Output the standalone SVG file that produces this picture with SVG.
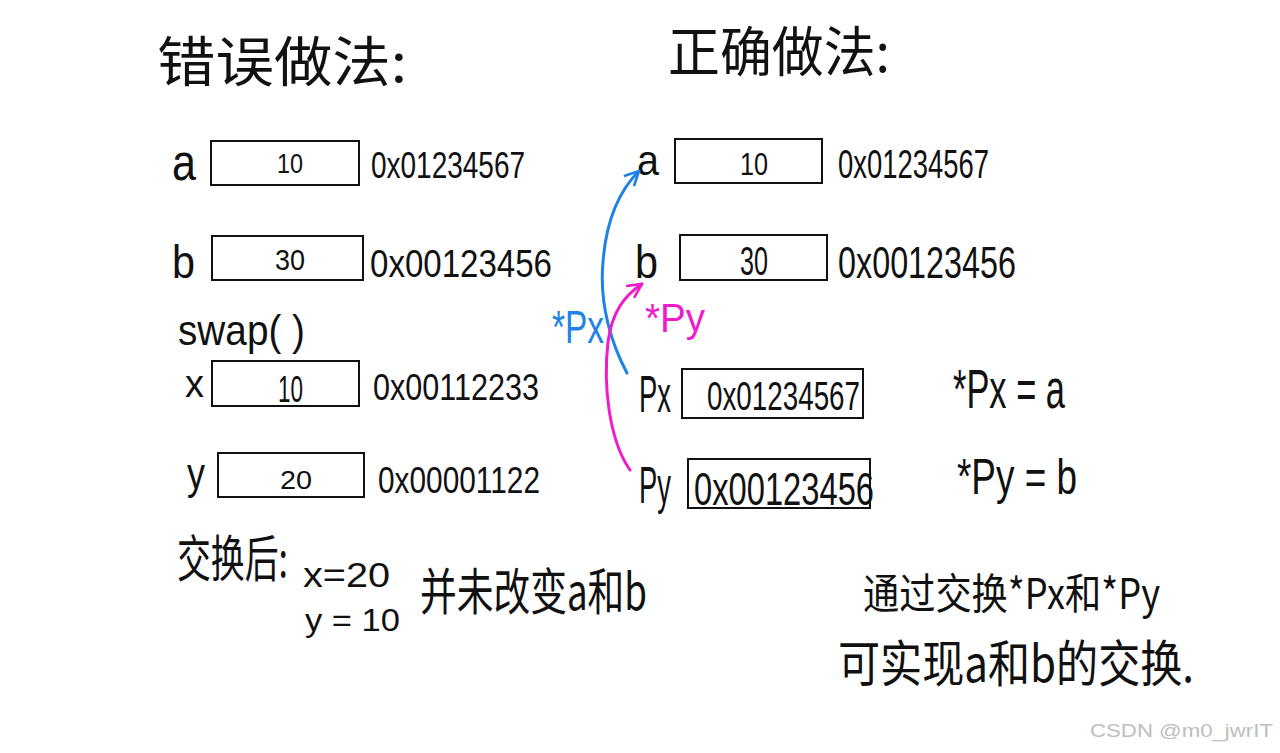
<svg xmlns="http://www.w3.org/2000/svg" width="1280" height="753" viewBox="0 0 1280 753">
<defs>
<style>
.t{font-family:"Liberation Sans","Noto Sans CJK SC",sans-serif;fill:#111;}
.c{font-family:"Noto Sans CJK SC","Liberation Sans",sans-serif;fill:#111;}
.box{fill:none;stroke:#111;stroke-width:2;}
.blue{fill:none;stroke:#1e82e6;stroke-width:3;stroke-linecap:round;}
.pink{fill:none;stroke:#ee1ccb;stroke-width:3;stroke-linecap:round;}
</style>
<marker id="ab" viewBox="0 0 12 12" refX="11" refY="6" markerWidth="16" markerHeight="16" markerUnits="userSpaceOnUse" orient="auto">
<path d="M1,1 L11,6 L1,11" fill="none" stroke="#1e82e6" stroke-width="2" stroke-linecap="round"/>
</marker>
<marker id="ap" viewBox="0 0 12 12" refX="11" refY="6" markerWidth="16" markerHeight="16" markerUnits="userSpaceOnUse" orient="auto">
<path d="M1,1 L11,6 L1,11" fill="none" stroke="#ee1ccb" stroke-width="2" stroke-linecap="round"/>
</marker>
</defs>
<rect width="1280" height="753" fill="#fff"/>

<g id="title-wrong"><text class="c" x="157" y="82" font-size="54" textLength="250" lengthAdjust="spacingAndGlyphs">错误做法:</text></g>
<g id="title-right"><text class="c" x="668" y="72" font-size="54" textLength="222" lengthAdjust="spacingAndGlyphs">正确做法:</text></g>

<g id="left-a">
<text class="t" x="172" y="180" font-size="52" textLength="24" lengthAdjust="spacingAndGlyphs">a</text>
<rect class="box" x="211" y="141" width="148" height="44"/>
<text class="t" x="277" y="173" font-size="28" textLength="26" lengthAdjust="spacingAndGlyphs">10</text>
<text class="t" x="371" y="178" font-size="36" textLength="154" lengthAdjust="spacingAndGlyphs">0x01234567</text>
</g>
<g id="left-b">
<text class="t" x="172" y="278" font-size="46" textLength="23" lengthAdjust="spacingAndGlyphs">b</text>
<rect class="box" x="212" y="236" width="151" height="44"/>
<text class="t" x="275" y="270" font-size="30" textLength="30" lengthAdjust="spacingAndGlyphs">30</text>
<text class="t" x="370" y="277" font-size="38" textLength="182" lengthAdjust="spacingAndGlyphs">0x00123456</text>
</g>
<g id="swap"><text class="t" x="178" y="345" font-size="42" textLength="127" lengthAdjust="spacingAndGlyphs">swap( )</text></g>
<g id="left-x">
<text class="t" x="185" y="397" font-size="38" textLength="19" lengthAdjust="spacingAndGlyphs">x</text>
<rect class="box" x="212" y="361" width="147" height="45"/>
<text class="t" x="278" y="402" font-size="36" textLength="25" lengthAdjust="spacingAndGlyphs">10</text>
<text class="t" x="373" y="400" font-size="36" textLength="166" lengthAdjust="spacingAndGlyphs">0x00112233</text>
</g>
<g id="left-y">
<text class="t" x="187" y="489" font-size="44" textLength="18" lengthAdjust="spacingAndGlyphs">y</text>
<rect class="box" x="218" y="453" width="146" height="44"/>
<text class="t" x="280" y="489" font-size="26" textLength="32" lengthAdjust="spacingAndGlyphs">20</text>
<text class="t" x="378" y="493" font-size="36" textLength="162" lengthAdjust="spacingAndGlyphs">0x00001122</text>
</g>
<g id="after-swap">
<text class="c" transform="translate(177,577) scale(1,1.35)" font-size="37" textLength="111" lengthAdjust="spacingAndGlyphs">交换后:</text>
<text class="t" x="303" y="587" font-size="35" textLength="87" lengthAdjust="spacingAndGlyphs">x=20</text>
<text class="t" x="305" y="631" font-size="32" textLength="95" lengthAdjust="spacingAndGlyphs">y = 10</text>
<text class="c" x="420" y="610" font-size="50" textLength="227" lengthAdjust="spacingAndGlyphs">并未改变a和b</text>
</g>

<g id="right-a">
<text class="t" x="637" y="175" font-size="42" textLength="22" lengthAdjust="spacingAndGlyphs">a</text>
<rect class="box" x="675" y="139" width="147" height="44"/>
<text class="t" x="740" y="175" font-size="32" textLength="28" lengthAdjust="spacingAndGlyphs">10</text>
<text class="t" x="838" y="178" font-size="40" textLength="151" lengthAdjust="spacingAndGlyphs">0x01234567</text>
</g>
<g id="right-b">
<text class="t" x="635" y="278" font-size="46" textLength="23" lengthAdjust="spacingAndGlyphs">b</text>
<rect class="box" x="680" y="235" width="147" height="45"/>
<text class="t" x="740" y="275" font-size="40" textLength="28" lengthAdjust="spacingAndGlyphs">30</text>
<text class="t" x="838" y="278" font-size="44" textLength="178" lengthAdjust="spacingAndGlyphs">0x00123456</text>
</g>
<g id="right-px">
<text class="t" transform="translate(639,412) scale(1,1.25)" font-size="42" textLength="32" lengthAdjust="spacingAndGlyphs">Px</text>
<rect class="box" x="682" y="369" width="181" height="49"/>
<text class="t" x="707" y="410" font-size="40" textLength="153" lengthAdjust="spacingAndGlyphs">0x01234567</text>
</g>
<g id="right-py">
<text class="t" transform="translate(639,503) scale(1,1.25)" font-size="42" textLength="32" lengthAdjust="spacingAndGlyphs">Py</text>
<rect class="box" x="688" y="459" width="182" height="49"/>
<text class="t" x="694" y="505" font-size="46" textLength="180" lengthAdjust="spacingAndGlyphs">0x00123456</text>
</g>

<g id="eq">
<text class="t" x="953" y="408" font-size="56" textLength="112" lengthAdjust="spacingAndGlyphs">*Px = a</text>
<text class="t" x="957" y="494" font-size="50" textLength="120" lengthAdjust="spacingAndGlyphs">*Py = b</text>
</g>
<g id="note">
<text class="c" x="863" y="609" font-size="42" textLength="297" lengthAdjust="spacingAndGlyphs">通过交换*Px和*Py</text>
<text class="c" x="838" y="682" font-size="50" textLength="356" lengthAdjust="spacingAndGlyphs">可实现a和b的交换.</text>
</g>

<g id="connectors">
<path class="blue" d="M627,373 C612,345 599,305 603,262 C606,222 618,192 639,171" marker-end="url(#ab)"/>
<path class="pink" d="M630,470 C609,440 603,385 608,342 C612,312 624,296 642,284" marker-end="url(#ap)"/>
<text x="552" y="343" font-family="Liberation Sans, sans-serif" font-size="46" fill="#1e82e6" textLength="52" lengthAdjust="spacingAndGlyphs">*Px</text>
<text x="645" y="332" font-family="Liberation Sans, sans-serif" font-size="40" fill="#ee1ccb" textLength="60" lengthAdjust="spacingAndGlyphs">*Py</text>
</g>

<g id="watermark"><text x="1090" y="737" font-family="Liberation Sans, sans-serif" font-size="19" fill="#bdbdbd" textLength="183" lengthAdjust="spacingAndGlyphs">CSDN @m0_jwrIT</text></g>
</svg>
